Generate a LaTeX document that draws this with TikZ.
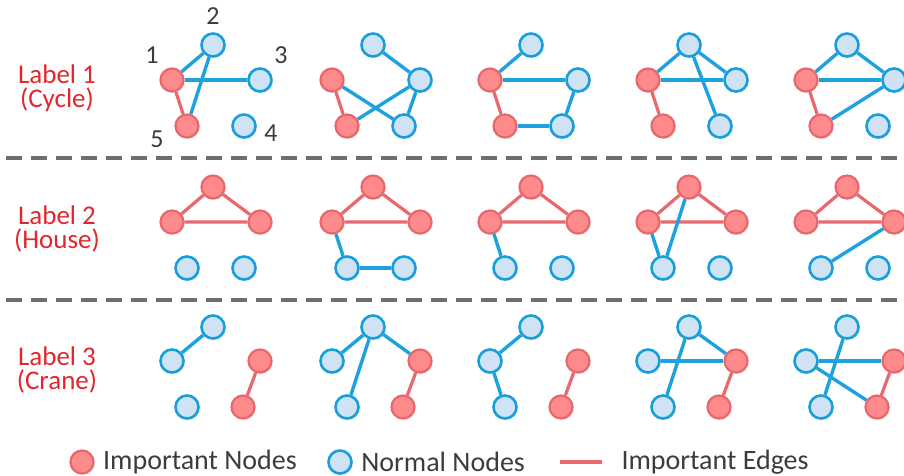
\documentclass[tikz,border=0pt]{standalone}
\usepackage{fontspec}
\setmainfont{Carlito}
\usetikzlibrary{positioning,backgrounds,shadows}
\definecolor{impfill}{HTML}{FF8A8C}
\definecolor{impline}{HTML}{E8676C}
\definecolor{nrmfill}{HTML}{CFE3F5}
\definecolor{nrmline}{HTML}{179FDB}
\definecolor{nedgecol}{HTML}{1CA2DE}
\definecolor{iedgecol}{HTML}{E8686C}
\definecolor{lblred}{HTML}{E2262D}
\definecolor{txtgray}{HTML}{3C3C3C}
\definecolor{sepgray}{HTML}{6E6E6E}
\begin{document}
\begin{tikzpicture}[x=1pt,y=-1pt,
 vtx/.style={circle,minimum size=23pt,inner sep=0pt,
  drop shadow={opacity=.15,shadow xshift=1.5pt,shadow yshift=-1.5pt}},
 imp/.style={vtx,draw=impline,fill=impfill,line width=2.2pt},
 nrm/.style={vtx,draw=nrmline,fill=nrmfill,line width=2.6pt},
 iedge/.style={draw=iedgecol,line width=3.2pt},
 nedge/.style={draw=nedgecol,line width=3.4pt},
 rowlbl/.style={text=lblred,align=center,font=\fontsize{27}{24}\selectfont},
 numlbl/.style={text=txtgray,font=\fontsize{26}{26}\selectfont},
 keytext/.style={text=txtgray,anchor=west,font=\fontsize{28}{28}\selectfont},
 sep/.style={draw=sepgray,line width=3.5pt,dash pattern=on 16pt off 9pt,dash phase=-6pt}]
\useasboundingbox (0,0) rectangle (904,476);

% row labels
\node[rowlbl] (lab1) at (57,88) {Label 1\\(Cycle)};
\node[rowlbl] (lab2) at (57,229) {Label 2\\(House)};
\node[rowlbl] (lab3) at (57,370) {Label 3\\(Crane)};

% separators
\coordinate (s1l) at (0,158); \coordinate (s1r) at (904,158);
\coordinate (s2l) at (0,300); \coordinate (s2r) at (904,300);
\draw[sep] (s1l) -- (s1r);
\draw[sep] (s2l) -- (s2r);

% five vertices per graph: 2 top, 1 and 3 middle, 5 and 4 bottom
\foreach \c/\x in {0/213,1/373,2/531,3/689,4/847} {
 \begin{scope}[shift={(\x,45)}]
  \node[nrm] (a\c-2) at (0,0) {};
  \node[imp] (a\c-1) at (-41,35) {};
  \node[nrm] (a\c-3) at (47,35) {};
  \node[imp] (a\c-5) at (-26,81) {};
  \node[nrm] (a\c-4) at (31,81) {};
 \end{scope}
 \begin{scope}[shift={(\x,187)}]
  \node[imp] (b\c-2) at (0,0) {};
  \node[imp] (b\c-1) at (-41,35) {};
  \node[imp] (b\c-3) at (47,35) {};
  \node[nrm] (b\c-5) at (-26,81) {};
  \node[nrm] (b\c-4) at (31,81) {};
 \end{scope}
 \begin{scope}[shift={(\x,327)}]
  \node[nrm] (c\c-2) at (0,0) {};
  \node[nrm] (c\c-1) at (-41,34) {};
  \node[imp] (c\c-3) at (47,34) {};
  \node[nrm] (c\c-5) at (-26,80) {};
  \node[imp] (c\c-4) at (30,80) {};
 \end{scope}
}

% vertex numbers
\node[numlbl] (n1) at (152,55) {1};
\node[numlbl] (n2) at (213,16) {2};
\node[numlbl] (n3) at (281,55) {3};
\node[numlbl] (n4) at (271,133) {4};
\node[numlbl] (n5) at (157,139) {5};

\begin{pgfonlayer}{background}
 % important edges
 \foreach \c in {0,...,4} {
  \draw[iedge] (a\c-1) -- (a\c-5);
  \draw[iedge] (b\c-1) -- (b\c-2) -- (b\c-3) -- (b\c-1);
  \draw[iedge] (c\c-3) -- (c\c-4);
 }
 % normal edges
 \foreach \c/\es in {0/{1/2,1/3,2/5},1/{2/3,1/4,5/3,3/4},2/{1/2,1/3,3/4,5/4},
   3/{1/2,2/3,1/3,2/4},4/{1/2,2/3,1/3,5/3}}
  \foreach \u/\v in \es \draw[nedge] (a\c-\u) -- (a\c-\v);
 \foreach \c/\es in {1/{1/5,5/4},2/{1/5},3/{1/5,2/5},4/{3/5}}
  \foreach \u/\v in \es \draw[nedge] (b\c-\u) -- (b\c-\v);
 \foreach \c/\es in {0/{1/2},1/{2/1,2/5,2/3},2/{2/1,1/5},3/{2/3,2/5,1/3},4/{1/3,1/4,2/5}}
  \foreach \u/\v in \es \draw[nedge] (c\c-\u) -- (c\c-\v);
\end{pgfonlayer}

% legend
\node[imp] (keyimp) at (82,462) {};
\node[keytext,right=5pt of keyimp] (keyimptxt) {Important Nodes};
\node[nrm] (keynrm) at (340,462) {};
\node[keytext,right=5pt of keynrm] (keynrmtxt) {Normal Nodes};
\coordinate (keyl) at (560,462); \coordinate (keyr) at (602,462);
\draw[iedge] (keyl) -- (keyr);
\node[keytext,right=16pt of keyr] (keyedgetxt) {Important Edges};
\end{tikzpicture}
\end{document}
